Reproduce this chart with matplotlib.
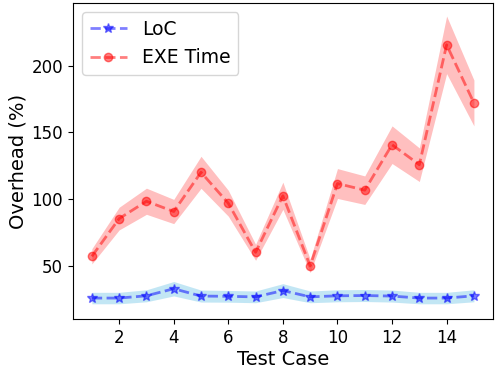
import matplotlib
matplotlib.use("Agg")
import matplotlib.pyplot as plt
import numpy as np

cases = list(range(1, 16))
loc = [25.7, 25.7, 27.4, 32.7, 27.2, 27.0, 26.6, 31.3, 26.6, 27.4, 27.6, 27.2, 25.7, 25.7, 27.4]
loc_err = [4.3, 4.3, 4.5, 5.4, 4.5, 4.4, 4.4, 5.2, 4.4, 4.5, 4.5, 4.5, 4.3, 4.3, 4.5]
exe = [57, 85.3, 98.3, 90.6, 120, 96.8, 60, 102.4, 49.8, 111.6, 106.6, 140.7, 125.7, 215.6, 172]
exe_err = [5.7, 8.5, 9.8, 9.1, 12.0, 9.7, 6.0, 10.2, 5.0, 11.2, 10.7, 14.1, 12.6, 21.6, 17.2]

x = np.array(cases)
loc = np.array(loc); loc_err = np.array(loc_err)
exe = np.array(exe); exe_err = np.array(exe_err)

fig = plt.figure(figsize=(4.95, 3.69), dpi=100)
ax = fig.add_axes([0.147, 0.1355, 0.849, 0.8565])

ax.plot(x, loc, '--', marker='*', color='blue', alpha=0.5, lw=2, markersize=7, label='LoC')
ax.fill_between(x, loc - loc_err, loc + loc_err, color='skyblue', alpha=0.5, lw=0)
ax.plot(x, exe, '--', marker='o', color='red', alpha=0.5, lw=2, markersize=6, label='EXE Time')
ax.fill_between(x, exe - exe_err, exe + exe_err, color='red', alpha=0.25, lw=0)

ax.set_xlim(0.3, 15.7)
ax.set_ylim(10, 247)
ax.set_yticks([50, 100, 150, 200])
ax.set_xticks([2, 4, 6, 8, 10, 12, 14])
ax.tick_params(labelsize=12)
ax.set_xlabel('Test Case', fontsize=14, labelpad=2)
ax.set_ylabel('Overhead (%)', fontsize=14, labelpad=3)
ax.legend(loc='upper left', fontsize=13.5)

fig.savefig('out.png', dpi=100)
